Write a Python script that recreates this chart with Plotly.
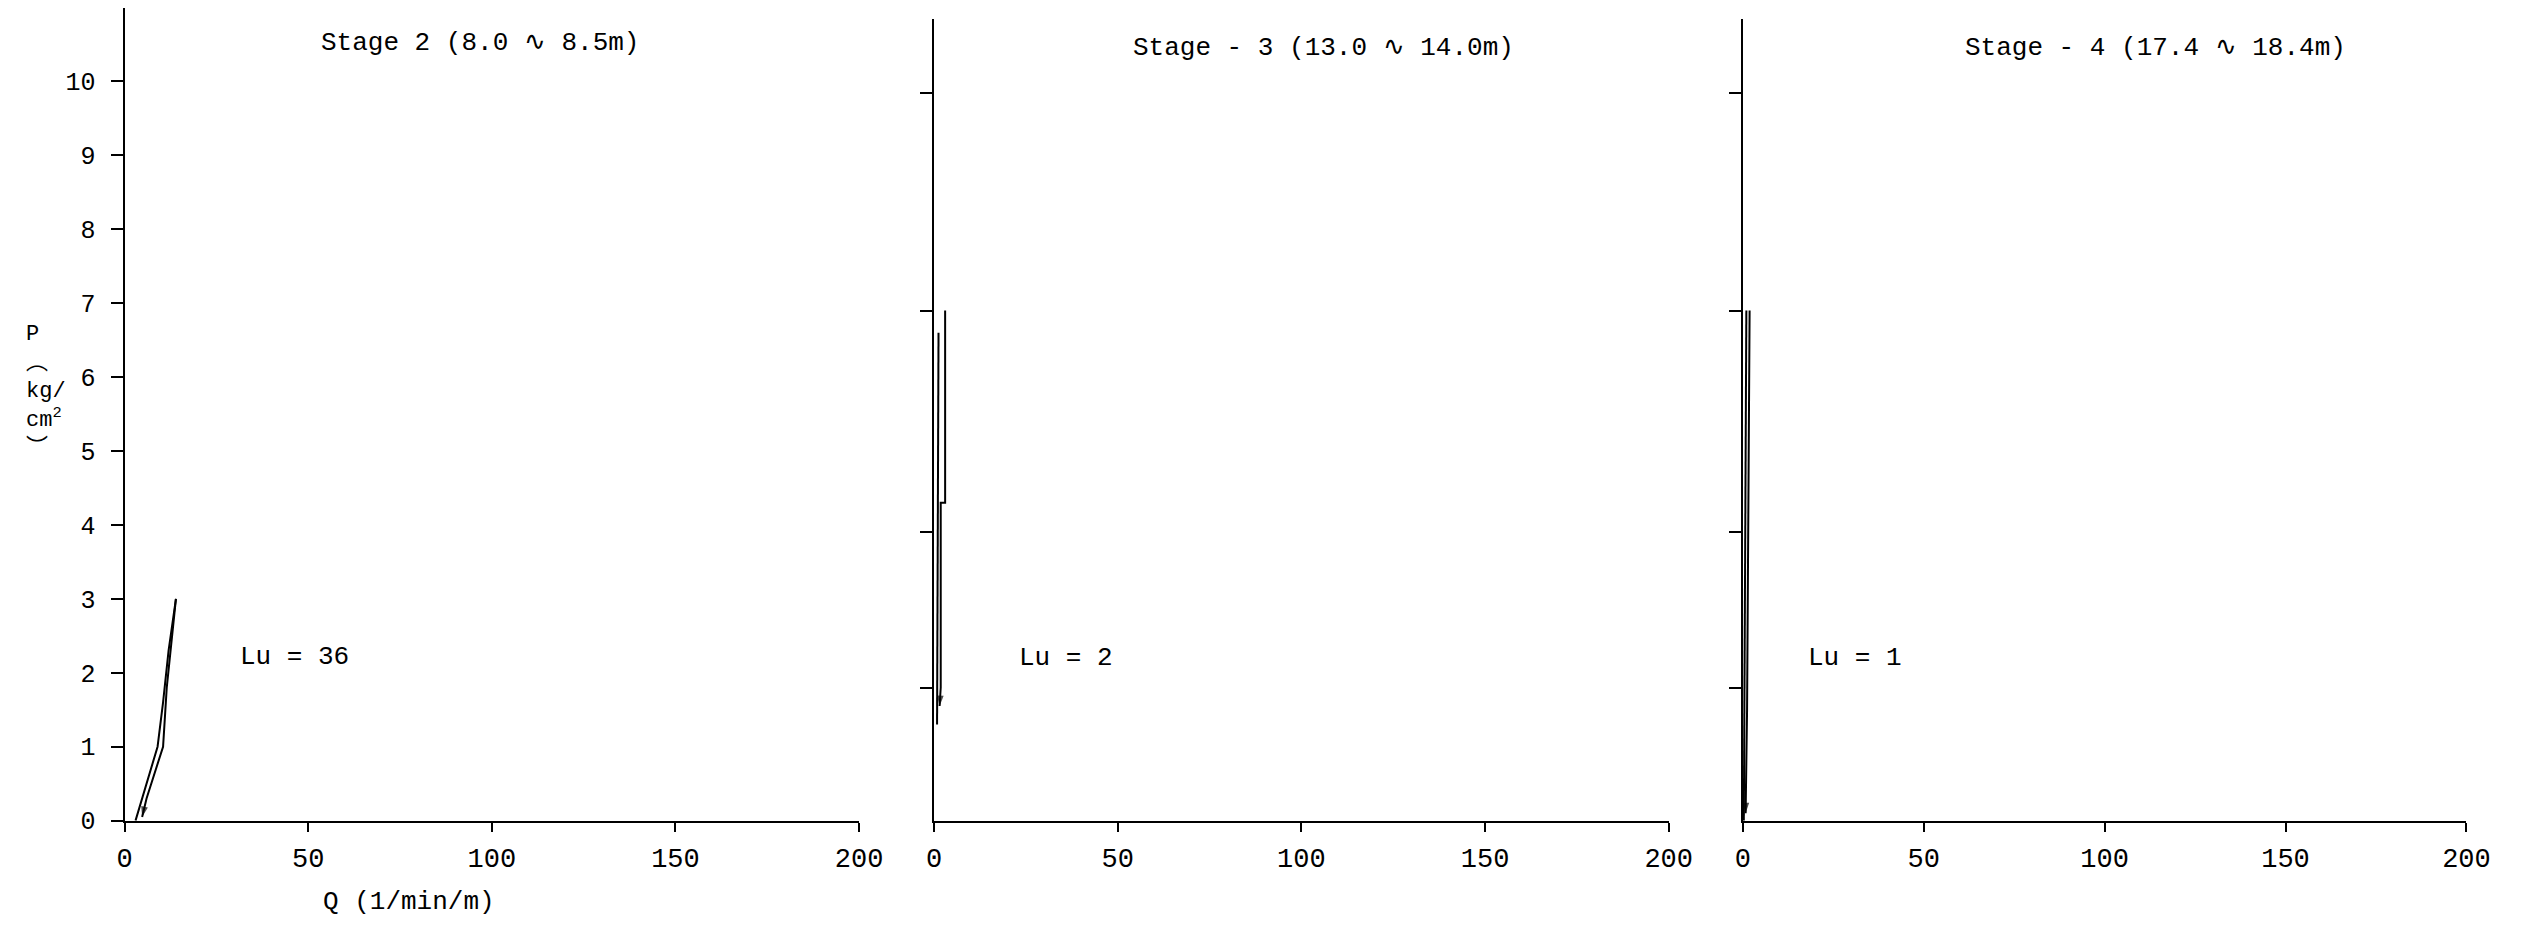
import plotly.graph_objects as go

# ---------------- data ----------------
q_ticks = [0, 50, 100, 150, 200]
p_ticks_main = [0, 1, 2, 3, 4, 5, 6, 7, 8, 9, 10]
p_ticks_other = [1.8, 3.9, 6.9, 9.85]

stage_titles = ["Stage 2 (8.0 \u223f 8.5m)", "Stage - 3 (13.0 \u223f 14.0m)", "Stage - 4 (17.4 \u223f 18.4m)"]
lu_labels = ["Lu = 36", "Lu = 2", "Lu = 1"]
p_axis_title = "P<br>\ufe35<br>kg/<br>cm<sup>2</sup><br>\ufe36"
q_axis_title = "Q (1/min/m)"

# Stage 2 : loading / unloading curves
s2_up_q = [3.0, 9.0, 10.5, 12.0, 14.0]
s2_up_p = [0.0, 1.0, 1.6, 2.3, 3.0]
s2_dn_q = [14.0, 12.5, 11.5, 10.5, 6.0, 4.8]
s2_dn_p = [3.0, 2.3, 1.8, 1.0, 0.3, 0.05]

# Stage 3
s3_up_q = [0.8, 0.9, 1.0, 1.2]
s3_up_p = [1.3, 3.0, 4.5, 6.6]
s3_dn_q = [3.0, 3.0, 1.8, 1.8, 1.5]
s3_dn_p = [6.9, 4.3, 4.3, 1.8, 1.55]

# Stage 4
s4_up_q = [0.3, 0.5, 0.8, 1.0]
s4_up_p = [0.0, 2.0, 4.5, 6.9]
s4_dn_q = [1.9, 1.8, 1.5, 1.2, 0.8]
s4_dn_p = [6.9, 6.0, 4.0, 1.5, 0.1]

# ---------------- figure ----------------
FONT = "Liberation Mono, DejaVu Sans Mono, Noto Sans CJK JP, monospace"
W, H = 2525, 925
Y0 = 836          # pixel row of P = 0
UNIT = 75.3       # pixels per kg/cm2
tops = [8, 19, 19]  # pixel rows of the top ends of the y axes

x_domains = [[118 / W, 862 / W], [938 / W, 1682 / W], [1757 / W, 2490 / W]]

fig = go.Figure()
line = dict(color="black", width=2)

series = [
    (s2_up_q, s2_up_p, s2_dn_q, s2_dn_p),
    (s3_up_q, s3_up_p, s3_dn_q, s3_dn_p),
    (s4_up_q, s4_up_p, s4_dn_q, s4_dn_p),
]
for i, (uq, up, dq, dp) in enumerate(series):
    xa = "x" if i == 0 else f"x{i+1}"
    ya = "y" if i == 0 else f"y{i+1}"
    fig.add_trace(go.Scatter(x=uq, y=up, mode="lines", line=line, xaxis=xa, yaxis=ya,
                             showlegend=False, hoverinfo="skip"))
    sizes = [0] * (len(dq) - 1) + [11]
    fig.add_trace(go.Scatter(x=dq, y=dp, mode="lines+markers", line=line, xaxis=xa, yaxis=ya,
                             marker=dict(symbol="arrow", size=sizes, angleref="previous",
                                         color="black", line=dict(width=0)),
                             showlegend=False, hoverinfo="skip"))

layout = dict(
    width=W, height=H,
    margin=dict(l=0, r=0, t=0, b=0),
    paper_bgcolor="white", plot_bgcolor="white",
    font=dict(family=FONT, color="black", size=22),
    showlegend=False,
)

for i in range(3):
    xk = "xaxis" if i == 0 else f"xaxis{i+1}"
    yk = "yaxis" if i == 0 else f"yaxis{i+1}"
    xa = "x" if i == 0 else f"x{i+1}"
    ya = "y" if i == 0 else f"y{i+1}"
    layout[xk] = dict(
        domain=x_domains[i], anchor=ya, range=[0, 200],
        tickvals=q_ticks, ticktext=[str(v) for v in q_ticks],
        ticks="outside", ticklen=9, tickwidth=2, tickcolor="black",
        ticklabelstandoff=3,
        showline=True, linecolor="black", linewidth=2,
        showgrid=False, zeroline=False,
        tickfont=dict(family=FONT, size=27, color="black"),
    )
    layout[yk] = dict(
        domain=[(H - Y0) / H, (H - tops[i]) / H], anchor=xa,
        range=[0, (Y0 - tops[i]) / UNIT],
        tickvals=p_ticks_main if i == 0 else p_ticks_other,
        showticklabels=(i == 0),
        ticks="outside", ticklen=12, tickwidth=2, tickcolor="black",
        ticklabelstandoff=10,
        showline=True, linecolor="black", linewidth=2,
        showgrid=False, zeroline=False,
        tickfont=dict(family=FONT, size=25, color="black"),
    )

fig.update_layout(**layout)

# titles and Lu labels
title_pos = [(53.0, 10.52), (53.5, 10.45), (61.0, 10.45)]
lu_pos = [(31.0, 2.22), (22.7, 2.2), (17.5, 2.2)]
for i in range(3):
    xa = "x" if i == 0 else f"x{i+1}"
    ya = "y" if i == 0 else f"y{i+1}"
    fig.add_annotation(x=title_pos[i][0], y=title_pos[i][1], xref=xa, yref=ya,
                       text=stage_titles[i], showarrow=False, xanchor="left", yanchor="middle",
                       font=dict(family=FONT, size=26, color="black"))
    fig.add_annotation(x=lu_pos[i][0], y=lu_pos[i][1], xref=xa, yref=ya,
                       text=lu_labels[i], showarrow=False, xanchor="left", yanchor="middle",
                       font=dict(family=FONT, size=26, color="black"))

# vertical y-axis title  P ︵ kg/cm2 ︶
fig.add_annotation(x=16 / W, y=(H - 399) / H, xref="paper", yref="paper",
                   text=p_axis_title, showarrow=False, xanchor="left", yanchor="middle",
                   align="left", font=dict(family=FONT, size=22, color="black"))

# x-axis title
fig.add_annotation(x=406 / W, y=0, xref="paper", yref="paper", yshift=-11,
                   text=q_axis_title, showarrow=False, xanchor="center", yanchor="bottom",
                   font=dict(family=FONT, size=26, color="black"))

fig.write_html("out.html")
